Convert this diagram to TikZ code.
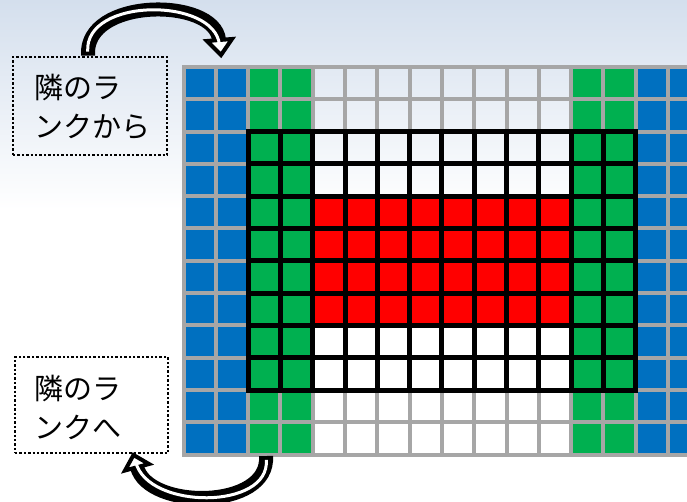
\documentclass[tikz,border=0pt]{standalone}
\usepackage{fontspec}
\newfontfamily\jp{Noto Sans CJK JP}
\definecolor{cblue}{HTML}{0070C0}
\definecolor{cgreen}{HTML}{00B050}
\definecolor{cred}{HTML}{FF0000}
\definecolor{cgray}{HTML}{A6A6A6}
\definecolor{bgtop}{RGB}{212,223,237}
\tikzset{
  gridgray/.style={line width=4pt, cgray, line cap=rect},
  gridblack/.style={line width=5pt, black, line cap=rect},
  dotbox/.style={draw=black, line width=2.6pt, dash pattern=on 2.4pt off 2pt, rectangle, inner sep=0pt},
  lbl/.style={font=\jp\fontsize{29}{39}\selectfont, align=left, inner sep=0pt, anchor=west},
  shaftout/.style={line width=14pt, black, line cap=butt},
  shaftin/.style={line width=3pt, white, line cap=butt},
  headst/.style={fill=white, draw=black, line width=4pt, line join=miter},
}
\begin{document}
\begin{tikzpicture}[x=1pt,y=-1pt]
\useasboundingbox (0,0) rectangle (687,502);
\clip (0,0) rectangle (687,502);
% background
\fill[white] (0,0) rectangle (687,502);
\shade[top color=bgtop, bottom color=white] (0,0) rectangle (687,210);
% grid
\def\X{183.5}\def\Y{67}\def\P{32.3}
\fill[cblue] (\X,\Y) rectangle ({\X+2*\P},{\Y+12*\P});
\fill[cblue] ({\X+14*\P},\Y) rectangle ({\X+16*\P},{\Y+12*\P});
\fill[cgreen] ({\X+2*\P},\Y) rectangle ({\X+4*\P},{\Y+12*\P});
\fill[cgreen] ({\X+12*\P},\Y) rectangle ({\X+14*\P},{\Y+12*\P});
\fill[cred] ({\X+4*\P},{\Y+4*\P}) rectangle ({\X+12*\P},{\Y+8*\P});
\foreach \i in {0,...,16}
  \draw[gridgray] ({\X+\i*\P},\Y) -- ({\X+\i*\P},{\Y+12*\P});
\foreach \j in {0,...,12}
  \draw[gridgray] (\X,{\Y+\j*\P}) -- ({\X+16*\P},{\Y+\j*\P});
\foreach \i in {2,...,14}
  \draw[gridblack] ({\X+\i*\P},{\Y+2*\P}) -- ({\X+\i*\P},{\Y+10*\P});
\foreach \j in {2,...,10}
  \draw[gridblack] ({\X+2*\P},{\Y+\j*\P}) -- ({\X+14*\P},{\Y+\j*\P});
% boxes
\node[dotbox, minimum width=154pt, minimum height=98pt] (from) at (90,106) {};
\node[lbl] (fromtext) at (34,107) {隣のラ\\ンクから};
\node[dotbox, minimum width=153pt, minimum height=96pt] (to) at (91.5,405) {};
\node[lbl] (totext) at (34,407) {隣のラ\\ンクへ};
% top arrow
\coordinate (a1s) at ([xshift=-2pt]from.north);
\coordinate (a1e) at (219,40);
\draw[shaftout] (a1s) .. controls (84,-3) and (215,-3) .. (a1e);
\filldraw[headst] (207,41) -- (221,55) -- (232,39) -- cycle;
\draw[shaftin, shorten <=4pt, shorten >=-5pt] (a1s) .. controls (84,-3) and (215,-3) .. (a1e);
% bottom arrow
\coordinate (a2s) at (266,456);
\coordinate (a2e) at (137,467);
\draw[shaftout] (a2s) .. controls (270,510) and (148,510) .. (a2e);
\filldraw[headst] (149,464) -- (133.5,455) -- (125,470.5) -- cycle;
\draw[shaftin, shorten <=4pt, shorten >=-5pt] (a2s) .. controls (270,510) and (148,510) .. (a2e);
\end{tikzpicture}
\end{document}
